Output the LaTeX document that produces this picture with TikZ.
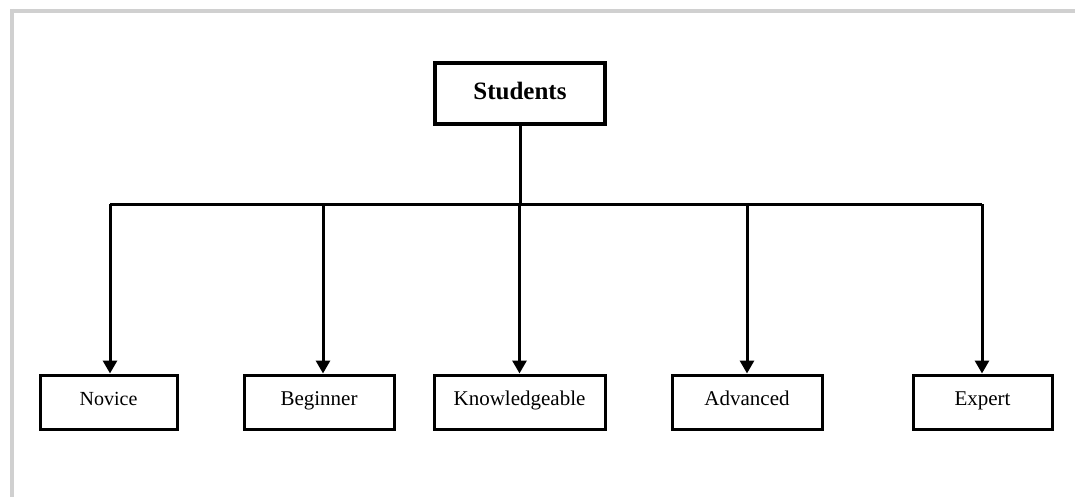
\documentclass[tikz,border=0pt]{standalone}
\usepackage{fontspec}
\setmainfont{Liberation Serif}
\usetikzlibrary{arrows.meta}
\definecolor{frame}{HTML}{D0D0D0}
\begin{document}
\begin{tikzpicture}[x=1pt,y=-1pt,
  rootbox/.style={draw, line width=3.8pt, minimum width=170pt, minimum height=61pt,
    inner sep=0pt, text height=18pt, text depth=5pt,
    font=\fontsize{25}{30}\selectfont\bfseries},
  levelbox/.style={draw, line width=3pt, minimum height=54pt, inner sep=0pt,
    text height=14pt, text depth=8pt, font=\fontsize{21}{25}\selectfont},
  link/.style={line width=3pt},
  arr/.style={line width=3pt, -{Triangle[width=14pt,length=13pt]}}]
  \useasboundingbox (0,0) rectangle (1075,497);
  % frame edges along the top and left
  \draw[frame, line width=4pt] (10,11) -- (1075,11);
  \draw[frame, line width=4pt] (12,9) -- (12,497);

  \node[rootbox] (stu) at (520,93.5) {Students};

  \node[levelbox, minimum width=137pt] (nov) at (108.5,402) {\fontsize{20}{24}\selectfont Novice};
  \node[levelbox, minimum width=150pt] (beg) at (319,402) {Beginner};
  \node[levelbox, minimum width=171pt] (kno) at (519.5,402) {Knowledgeable};
  \node[levelbox, minimum width=150pt] (adv) at (747,402) {Advanced};
  \node[levelbox, minimum width=139pt] (exp) at (982.5,402) {Expert};

  \coordinate (bus) at (0,204);
  \coordinate (bl) at (110,204);
  \coordinate (bb) at (323,204);
  \coordinate (br) at (982,204);

  \draw[link] (stu.south) -- (stu.south |- bus);
  \draw[link] (bl) -- (br);
  \draw[arr] (bl) -- (bl |- nov.north);
  \draw[arr] (bb) -- (bb |- beg.north);
  \draw[arr] (kno.north |- bus) -- (kno.north);
  \draw[arr] (adv.north |- bus) -- (adv.north);
  \draw[arr] (br) -- (br |- exp.north);
\end{tikzpicture}
\end{document}
